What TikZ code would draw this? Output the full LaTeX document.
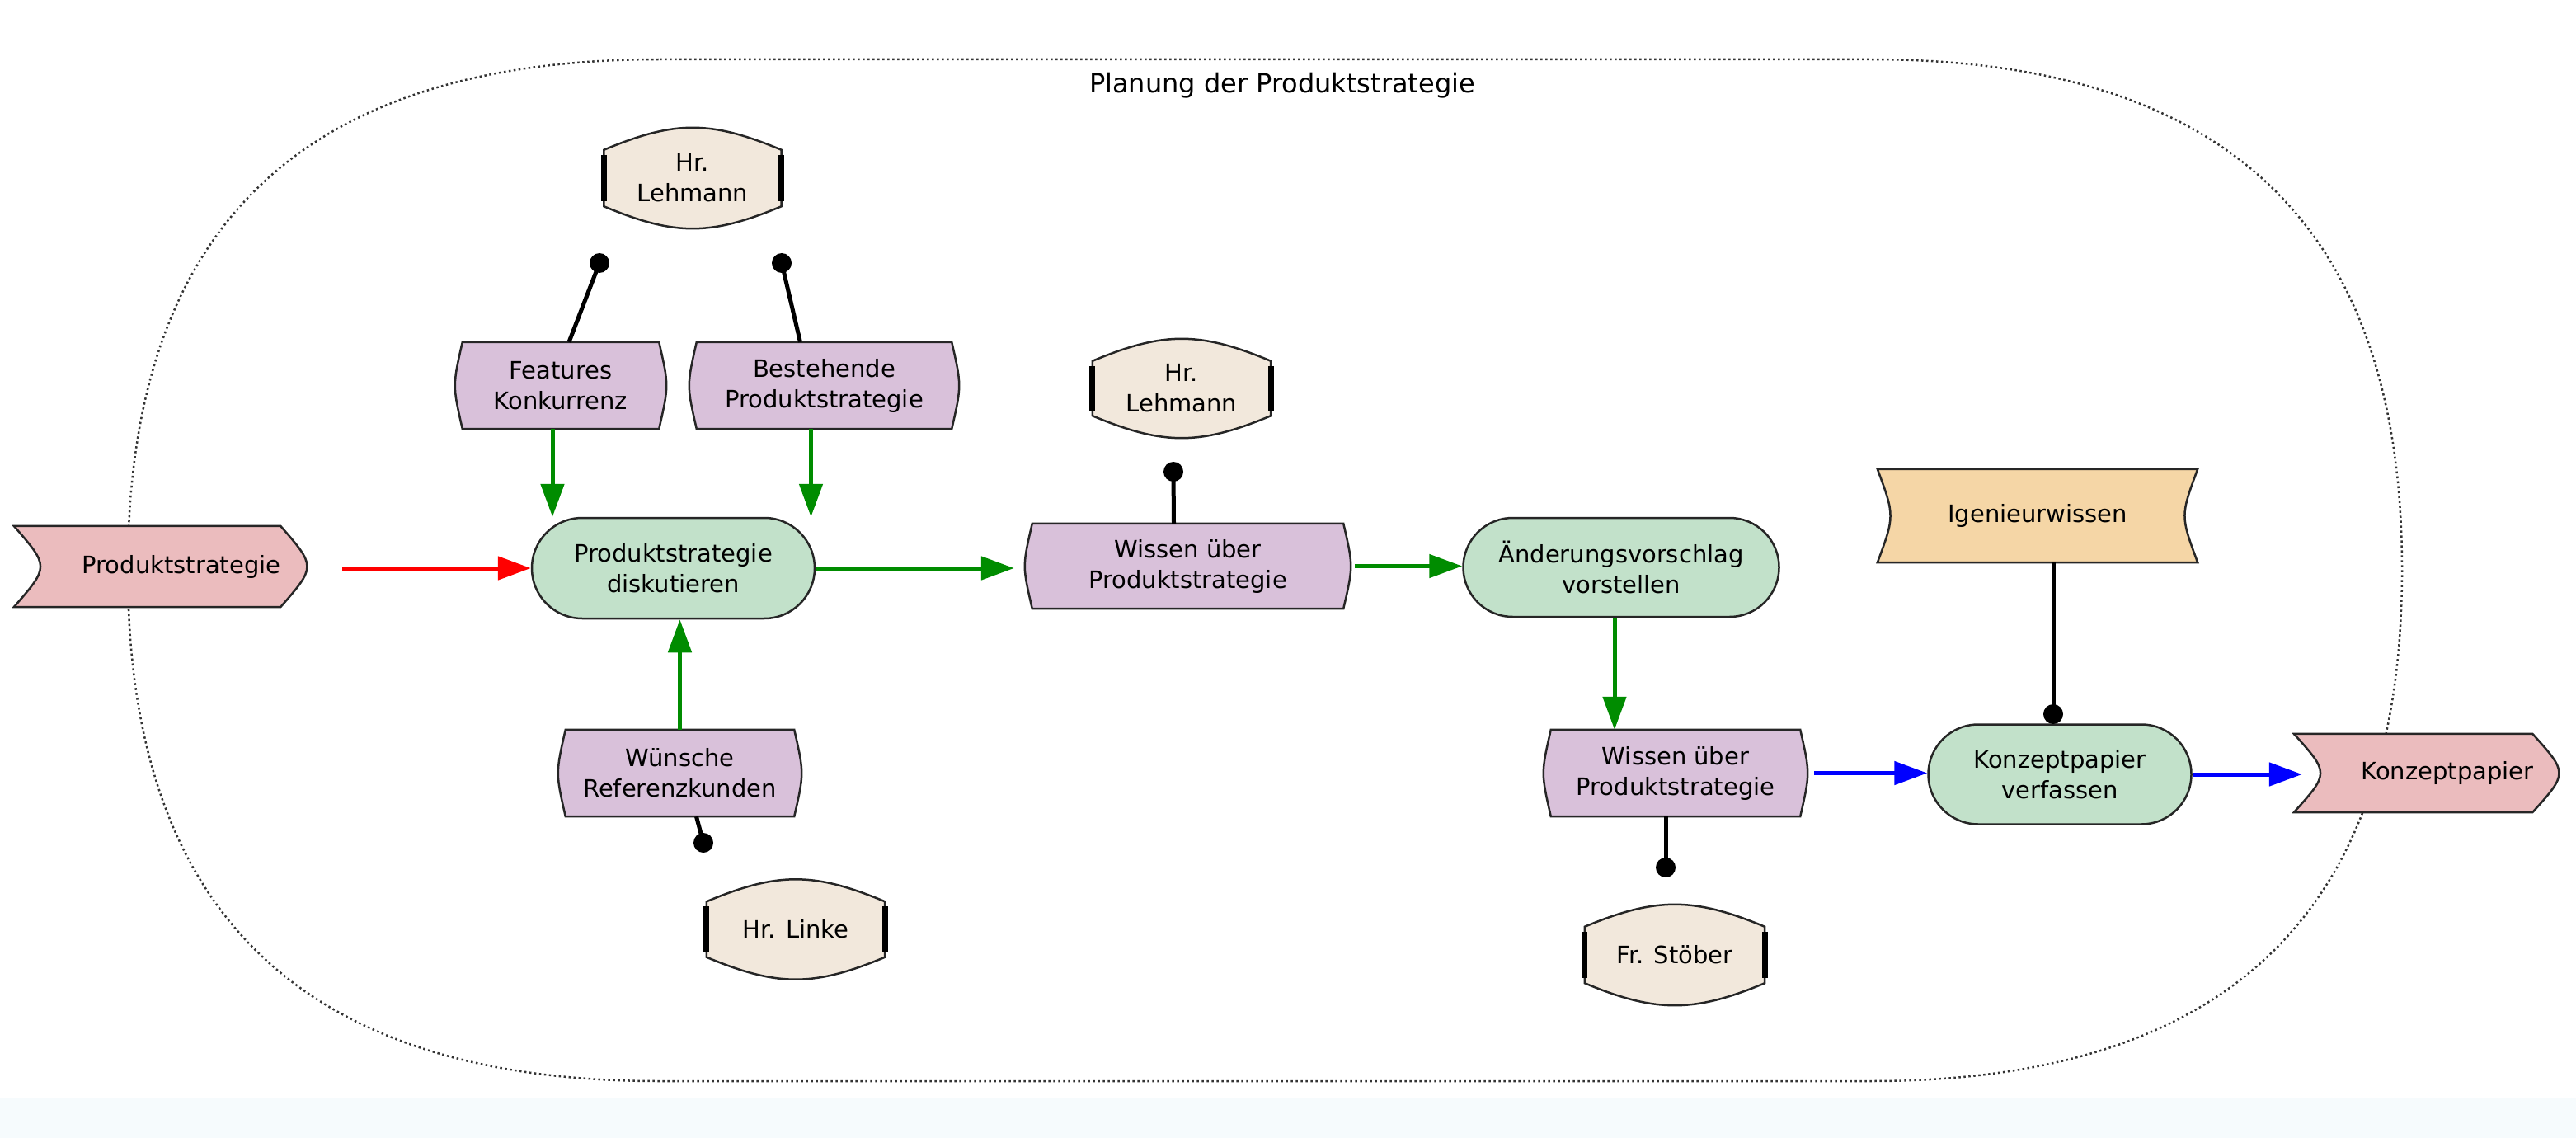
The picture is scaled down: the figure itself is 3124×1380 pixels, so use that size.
\documentclass[tikz,border=0pt]{standalone}
\usepackage{fontspec}
\setmainfont{DejaVu Sans}
\usetikzlibrary{arrows.meta,shapes.misc,backgrounds}
\definecolor{pinkc}{RGB}{235,188,190}
\definecolor{purpc}{RGB}{217,193,218}
\definecolor{greenc}{RGB}{194,225,202}
\definecolor{beigec}{RGB}{242,232,220}
\definecolor{orangec}{RGB}{245,214,166}
\definecolor{arrgreen}{RGB}{0,140,0}
\definecolor{stripc}{RGB}{246,251,253}
\tikzset{
  every node/.style={inner sep=0pt},
  widefont/.style={font=\fontsize{29}{37}\selectfont, align=center},
  titlefont/.style={font=\fontsize{32}{38}\selectfont},
  outl/.style={draw=black!85, line width=2.5pt, line join=miter},
  procbox/.style={rounded rectangle, outl, fill=greenc},
  res/.style={line width=5pt, black},
  garrow/.style={line width=5pt, arrgreen, -{Triangle[length=40pt,width=28pt]}},
  barrow/.style={line width=5pt, blue, -{Triangle[length=40pt,width=28pt]}},
  rarrow/.style={line width=5pt, red, -{Triangle[length=40pt,width=28pt]}},
  groupline/.style={line width=2.5pt, black!80, dash pattern=on 2.5pt off 3.5pt}
}
\newcommand\ioshape[2]{%
  \path[outl, fill=#2] ([xshift=-51pt]#1.north west) -- ([xshift=-32pt]#1.north east)
    .. controls ([xshift=11pt]#1.east) .. ([xshift=-32pt]#1.south east)
    -- ([xshift=-51pt]#1.south west) .. controls ([xshift=-8pt]#1.west) .. ([xshift=-51pt]#1.north west) -- cycle;}
\newcommand\infoshape[1]{%
  \path[outl, fill=purpc] (#1.north west) -- (#1.north east)
    .. controls ([xshift=12pt]#1.east) .. (#1.south east)
    -- (#1.south west) .. controls ([xshift=-12pt]#1.west) .. (#1.north west) -- cycle;}
\newcommand\concshape[1]{%
  \path[outl, fill=orangec] (#1.north west) -- (#1.north east)
    .. controls ([xshift=-21pt]#1.east) .. (#1.south east)
    -- (#1.south west) .. controls ([xshift=21pt]#1.west) .. (#1.north west) -- cycle;}
\newcommand\personshape[1]{%
  \path[outl, fill=beigec] ([yshift=-27pt]#1.north west)
    .. controls ([xshift=86pt,yshift=9pt]#1.north west) and ([xshift=-86pt,yshift=9pt]#1.north east) .. ([yshift=-27pt]#1.north east)
    -- ([yshift=27pt]#1.south east)
    .. controls ([xshift=-86pt,yshift=-9pt]#1.south east) and ([xshift=86pt,yshift=-9pt]#1.south west) .. ([yshift=27pt]#1.south west)
    -- cycle;
  \draw[line width=7pt] ([yshift=-33pt]#1.north west) -- ([yshift=33pt]#1.south west);
  \draw[line width=7pt] ([yshift=-33pt]#1.north east) -- ([yshift=33pt]#1.south east);}
\begin{document}
\begin{tikzpicture}[x=1pt,y=-1pt]
\useasboundingbox (0,0) rectangle (3124,1380);

% nodes
\node[titlefont] (title) at (1555,104) {Planung der Produktstrategie};
\node[widefont, minimum width=304pt, minimum height=98pt] (inp) at (220,687) {Produktstrategie};
\node[procbox, widefont, minimum width=343pt, minimum height=122pt] (disk) at (816.5,689) {Produktstrategie\\diskutieren};
\node[widefont, minimum width=238pt, minimum height=105pt] (feat) at (680,467.5) {Features\\Konkurrenz};
\node[widefont, minimum width=309pt, minimum height=105pt] (best) at (999.5,467.5) {Bestehende\\Produktstrategie};
\node[widefont, minimum width=215pt, minimum height=122pt] (leh1) at (840,216) {Hr.\\Lehmann};
\node[widefont, minimum width=277pt, minimum height=105pt] (wun) at (824.5,937.5) {Wünsche\\Referenzkunden};
\node[widefont, minimum width=216pt, minimum height=121pt] (lin) at (965,1127) {Hr. Linke};
\node[widefont, minimum width=377pt, minimum height=103pt] (wis1) at (1440.5,686.5) {Wissen über\\Produktstrategie};
\node[widefont, minimum width=216pt, minimum height=120pt] (leh2) at (1433,471) {Hr.\\Lehmann};
\node[procbox, widefont, minimum width=383pt, minimum height=120pt] (aend) at (1966,688) {Änderungsvorschlag\\vorstellen};
\node[widefont, minimum width=302pt, minimum height=105pt] (wis2) at (2032,937.5) {Wissen über\\Produktstrategie};
\node[widefont, minimum width=218pt, minimum height=122pt] (sto) at (2031,1158) {Fr. Stöber};
\node[procbox, widefont, minimum width=319pt, minimum height=121pt] (kv) at (2498,939) {Konzeptpapier\\verfassen};
\node[widefont, minimum width=388pt, minimum height=113pt] (ing) at (2471,625.5) {Igenieurwissen};
\node[widefont, minimum width=270pt, minimum height=95pt] (out) at (2968,937.5) {Konzeptpapier};

% background shapes
\begin{scope}[on background layer]
  \fill[white] (0,0) rectangle (3124,1380);
  \fill[stripc] (0,1332) rectangle (3124,1380);
  \draw[groupline] (800,72) -- (2268,72)
    .. controls (2718,72) and (2913,291) .. (2913,691)
    .. controls (2913,1091) and (2718,1311) .. (2268,1311)
    -- (800,1311)
    .. controls (350,1311) and (155,1091) .. (155,691)
    .. controls (155,291) and (350,72) .. (800,72) -- cycle;
  \ioshape{inp}{pinkc}
  \ioshape{out}{pinkc}
  \infoshape{feat}
  \infoshape{best}
  \infoshape{wun}
  \infoshape{wis1}
  \infoshape{wis2}
  \concshape{ing}
  \personshape{leh1}
  \personshape{leh2}
  \personshape{lin}
  \personshape{sto}
\end{scope}

% resource links
\coordinate (d1) at (727,319);
\coordinate (d2) at (948,319);
\coordinate (d3) at (1423,572);
\coordinate (d4) at (853,1022);
\coordinate (d5) at (2020,1052);
\coordinate (d6) at (2490,866);
\draw[res] ([xshift=10pt]feat.north) -- (d1);
\draw[res] ([xshift=-29pt]best.north) -- (d2);
\draw[res] ([xshift=-17pt]wis1.north) -- (d3);
\draw[res] ([xshift=20pt]wun.south) -- (d4);
\draw[res] ([xshift=-12pt]wis2.south) -- (d5);
\draw[res] ([xshift=19pt]ing.south) -- (d6);
\foreach \d in {d1,d2,d3,d4,d5,d6} \fill (\d) circle[radius=12pt];

% flow arrows
\draw[rarrow] ([xshift=43pt]inp.east |- disk.west) -- (disk.west);
\draw[garrow] ([xshift=-10pt]feat.south) -- ([xshift=-10pt]feat.south |- disk.north);
\draw[garrow] ([xshift=-16pt]best.south) -- ([xshift=-16pt]best.south |- disk.north);
\draw[garrow] (wun.north) -- (wun.north |- disk.south);
\draw[garrow] (disk.east) -- ([xshift=-22pt]disk.east -| wis1.west);
\draw[garrow] ([xshift=14pt]wis1.east) -- (wis1.east -| aend.west);
\draw[garrow] ([xshift=-8pt]aend.south) -- ([xshift=-8pt]aend.south |- wis2.north);
\draw[barrow] ([xshift=17pt]wis2.east) -- (wis2.east -| kv.west);
\draw[barrow] (kv.east) -- ([xshift=-41pt]kv.east -| out.west);
\end{tikzpicture}
\end{document}
